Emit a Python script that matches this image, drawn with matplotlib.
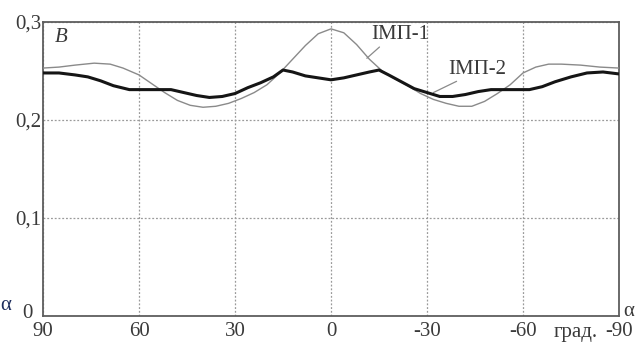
import matplotlib
matplotlib.use("Agg")
import matplotlib.pyplot as plt

# ---- data ----
alpha_imp1 = [90, 85, 80, 74, 69, 65, 60, 56, 52, 48, 44, 40, 36, 32, 28, 24, 20, 16, 12, 8, 4, 0,
              -4, -8, -12, -16, -20, -24, -28, -32, -36, -40, -44, -48, -52, -56, -60, -64, -68, -72,
              -78, -84, -90]
b_imp1 = [0.253, 0.254, 0.256, 0.258, 0.257, 0.253, 0.246, 0.237, 0.228, 0.220, 0.215, 0.213, 0.214,
          0.217, 0.222, 0.228, 0.236, 0.248, 0.262, 0.276, 0.288, 0.293,
          0.289, 0.277, 0.262, 0.250, 0.242, 0.235, 0.227, 0.221, 0.217, 0.214, 0.214, 0.219, 0.227,
          0.236, 0.248, 0.254, 0.257, 0.257, 0.256, 0.254, 0.253]

alpha_imp2 = [90, 85, 80, 76, 72, 68, 63, 56, 50, 46, 42, 38, 34, 30, 26, 22, 18, 15, 12, 8, 4, 0,
              -4, -8, -12, -15, -18, -22, -26, -30, -34, -38, -42, -46, -50, -56, -62, -66, -70, -75,
              -80, -85, -90]
b_imp2 = [0.248, 0.248, 0.246, 0.244, 0.240, 0.235, 0.231, 0.231, 0.231, 0.228, 0.225, 0.223, 0.224,
          0.227, 0.233, 0.238, 0.244, 0.251, 0.249, 0.245, 0.243, 0.241,
          0.243, 0.246, 0.249, 0.251, 0.246, 0.239, 0.232, 0.228, 0.224, 0.224, 0.226, 0.229, 0.231,
          0.231, 0.231, 0.234, 0.239, 0.244, 0.248, 0.249, 0.247]

x_ticks = [90, 60, 30, 0, -30, -60, -90]
x_tick_labels = ["90", "60", "30", "0", "-30", "-60", "-90"]
y_ticks = [0, 0.1, 0.2, 0.3]
y_tick_labels = ["", "0,1", "0,2", "0,3"]
y_zero_label = "0"

plt.rcParams['font.family'] = ['Liberation Serif', 'DejaVu Serif']

fig = plt.figure(figsize=(6.4, 3.42), dpi=100)
ax = fig.add_axes([43/640, 1 - 316/342, (619 - 43)/640, (316 - 22)/342])

frame_col = "#5e5e5e"
text_col = "#3a3a3a"
fs = 15

ax.plot(alpha_imp1, b_imp1, color="#8a8a8a", lw=1.0, zorder=3)
ax.plot(alpha_imp2, b_imp2, color="#151515", lw=2.2, zorder=4)

ax.set_xlim(90, -90)
ax.set_ylim(0, 0.3)
ax.set_xticks(x_ticks)
ax.set_xticklabels(x_tick_labels)
ax.set_yticks(y_ticks)
ax.set_yticklabels(y_tick_labels)
ax.tick_params(axis='both', length=0, labelsize=fs, colors=text_col)
ax.tick_params(axis='x', pad=4)
ax.tick_params(axis='y', pad=1)

ax.grid(True, color="#9a9a9a", lw=0.9, linestyle=(0, (1.5, 1.5)))
for s in ax.spines.values():
    s.set_color(frame_col)
    s.set_linewidth(1.3)

# "0" label of the y axis, set a bit apart from the "90" label
fig.text(33/640, 1 - 314/342, y_zero_label, fontsize=fs, color=text_col, ha='right', va='center')

# annotations
ax.text(0.0205, 0.98, "B", transform=ax.transAxes, fontsize=fs, style='italic',
        color=text_col, ha='left', va='top')
ax.annotate("ІМП-1", xy=(-11.2, 0.263), xytext=(-12.5, 0.287), fontsize=fs, color=text_col,
            ha='left', va='center',
            arrowprops=dict(arrowstyle='-', color="#8a8a8a", lw=0.9,
                            shrinkA=0, shrinkB=0, relpos=(0.2, 0.0)))
ax.annotate("ІМП-2", xy=(-32.0, 0.228), xytext=(-36.5, 0.252), fontsize=fs, color=text_col,
            ha='left', va='center',
            arrowprops=dict(arrowstyle='-', color="#8a8a8a", lw=0.9,
                            shrinkA=0, shrinkB=0, relpos=(0.25, 0.0)))

fig.text(554/640, 1 - 333/342, "град.", fontsize=fs, color=text_col, ha='left', va='center')
fig.text(623/640, 1 - 312/342, "α", fontsize=fs, color=text_col, ha='left', va='center')
fig.text(0/640, 1 - 305/342, "α", fontsize=fs, color="#1c2c5c", ha='left', va='center')

fig.savefig("out.png", dpi=100)
